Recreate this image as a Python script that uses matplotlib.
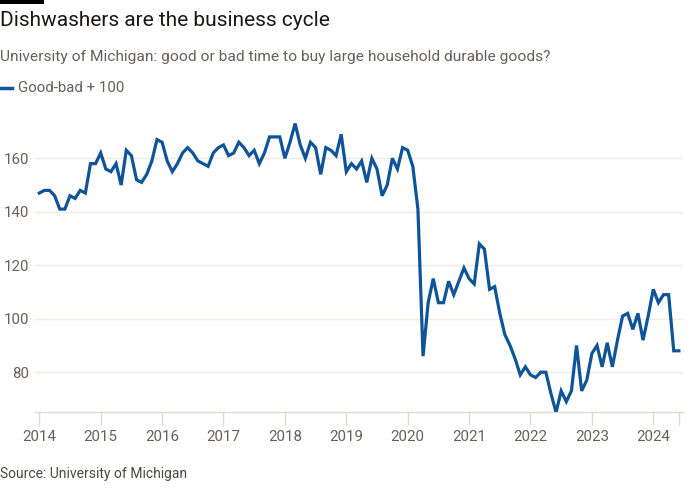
import matplotlib
matplotlib.use("Agg")
import matplotlib.pyplot as plt
import numpy as np

plt.rcParams['font.family'] = ['Roboto', 'DejaVu Sans']

start_year = 2014
values = [
    # 2014
    147, 148, 148, 146, 141, 141, 146, 145, 148, 147, 158, 158,
    # 2015
    162, 156, 155, 158, 150, 163, 161, 152, 151, 154, 159, 167,
    # 2016
    166, 159, 155, 158, 162, 164, 162, 159, 158, 157, 162, 164,
    # 2017
    165, 161, 162, 166, 164, 161, 163, 158, 162, 168, 168, 168,
    # 2018
    160, 166, 173, 165, 160, 166, 164, 154, 164, 163, 161, 169,
    # 2019
    155, 158, 156, 159, 151, 160, 156, 146, 150, 160, 156, 164,
    # 2020
    163, 157, 141, 86, 106, 115, 106, 106, 114, 109, 114, 119,
    # 2021
    115, 113, 128, 126, 111, 112, 102, 94, 90, 85, 79, 82,
    # 2022
    79, 78, 80, 80, 72, 65, 73, 69, 73, 90, 73, 77,
    # 2023
    87, 90, 82, 91, 82, 92, 101, 102, 96, 102, 92, 101,
    # 2024
    111, 106, 109, 109, 88, 88,
]
year_ticks = list(range(2014, 2025))
y_ticks = [80, 100, 120, 140, 160]

x = start_year + np.arange(len(values)) / 12.0
last_x = x[-1]

W, H = 700, 500
fig = plt.figure(figsize=(7, 5), dpi=100)
fig.patch.set_facecolor('white')

ax = fig.add_axes([35 / W, 1 - 412.3 / H, (683 - 35) / W, (412.3 - 118.2) / H])
ax.set_facecolor('white')

ax.plot(x, values, color='#0f5499', lw=2.3, solid_joinstyle='miter', zorder=3)

ax.set_ylim(65, 175)
ax.set_xlim(2013.93, 2024.484)
ax.set_yticks(y_ticks)
ax.set_yticklabels([str(v) for v in y_ticks])
ax.set_xticks(year_ticks + [last_x])
ax.set_xticklabels([str(y) for y in year_ticks] + [''])

ax.grid(axis='y', color='#f2ece6', lw=1.0, zorder=0)
ax.grid(axis='x', visible=False)
for s in ['top', 'right', 'left']:
    ax.spines[s].set_visible(False)
ax.spines['bottom'].set_color('#e0d9d2')
ax.spines['bottom'].set_linewidth(1.0)

ax.tick_params(axis='y', length=0, pad=4, labelsize=10.8, labelcolor='#66605c')
ax.tick_params(axis='x', length=9, width=1.0, color='#e0d9d2', pad=4,
               labelsize=10.8, labelcolor='#66605c')

# Top black bar
fig.add_artist(plt.Rectangle((0, 1 - 4 / H), 44 / W, 4 / H, transform=fig.transFigure,
                             color='black', lw=0))

fig.text(0, 1 - 21 / H, 'Dishwashers are the business cycle', fontsize=15,
         color='#1a1817', ha='left', va='center')
fig.text(0, 1 - 57 / H, 'University of Michigan: good or bad time to buy large household durable goods?',
         fontsize=11.15, color='#66605c', ha='left', va='center')

# Legend
fig.add_artist(plt.Line2D([0, 12 / W], [1 - 88 / H, 1 - 88 / H], transform=fig.transFigure,
                          color='#0f5499', lw=2.5))
fig.text(18 / W, 1 - 88 / H, 'Good-bad + 100', fontsize=10.8, color='#66605c',
         ha='left', va='center')

fig.text(0, 1 - 474 / H, 'Source: University of Michigan', fontsize=10,
         color='#4d4845', ha='left', va='center')

fig.savefig('out.png', dpi=100, facecolor='white')
